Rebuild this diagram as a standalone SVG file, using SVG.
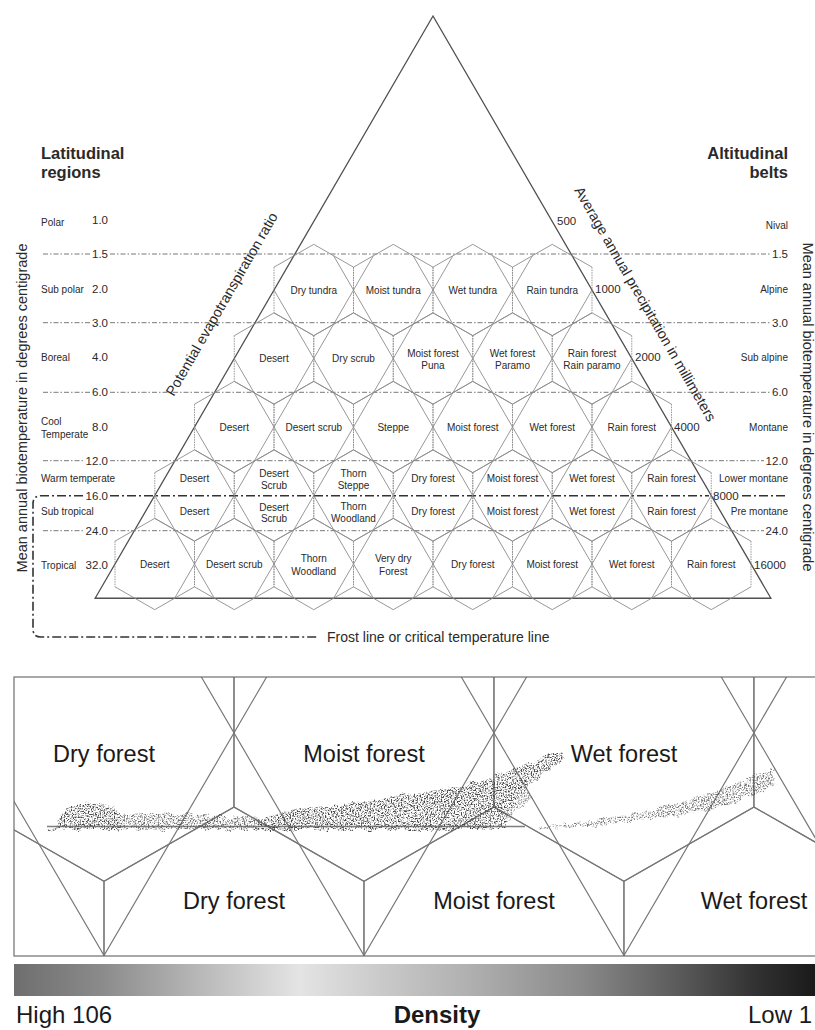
<svg xmlns="http://www.w3.org/2000/svg" xmlns:xlink="http://www.w3.org/1999/xlink" width="815" height="1030" viewBox="0 0 815 1030">
<style>
text{font-family:"Liberation Sans",Arial,sans-serif;fill:#2a2a2a}
.hl{font-size:10px;text-anchor:middle}
.lb{font-size:10px}
.rb{font-size:10px;text-anchor:end}
.num{font-size:11.5px;text-anchor:end}
.pn{font-size:11.5px}
.ttl{font-size:16.5px;font-weight:bold}
.ttr{font-size:16.5px;font-weight:bold;text-anchor:end}
.ax{font-size:14.5px;text-anchor:middle}
.ad{font-size:14.3px;text-anchor:middle}
.lat{fill:none;stroke:#8c8c8c;stroke-width:0.9}
.dd{fill:none;stroke:#6a6a6a;stroke-width:0.9;stroke-dasharray:5 2 1.5 2}
.fr{fill:none;stroke:#333;stroke-width:1.6;stroke-dasharray:9 3 2 3}
.tri{fill:none;stroke:#505050;stroke-width:1.3}
.pl{font-size:23.5px;text-anchor:middle;fill:#1a1a1a}
.bt{font-size:24px;fill:#1a1a1a}
</style>
<defs>
<path id="hxs" d="M-39.75,-22.83L0,-45.67L39.75,-22.83M-39.75,22.83L0,45.67L39.75,22.83"/>
<path id="hxv" d="M-39.75,-22.83V22.83M39.75,-22.83V22.83"/>
<path id="hxo" d="M0,-45.67L39.75,-22.83V22.83L0,45.67L-39.75,22.83V-22.83Z"/>
<g id="hx">
<use href="#hxs" fill="none" stroke="#8c8c8c" stroke-width="0.9"/>
<use href="#hxv" fill="none" stroke="#8c8c8c" stroke-width="0.9" stroke-dasharray="1.5 1"/>
</g>
<path id="latt" d="M174.63,598.25L472.75,84.5M254.13,598.25L512.5,153M333.63,598.25L552.25,221.5M413.13,598.25L592,290M492.63,598.25L631.75,358.5M572.13,598.25L671.5,427M651.63,598.25L711.25,495.5M691.38,598.25L393.25,84.5M611.88,598.25L353.5,153M532.38,598.25L313.75,221.5M452.88,598.25L274,290M373.38,598.25L234.25,358.5M293.88,598.25L194.5,427M214.38,598.25L154.75,495.5"/>
<clipPath id="hexclip">
<use href="#hxo" x="313.75" y="290"/><use href="#hxo" x="393.25" y="290"/><use href="#hxo" x="472.75" y="290"/><use href="#hxo" x="552.25" y="290"/>
<use href="#hxo" x="274" y="358.5"/><use href="#hxo" x="353.5" y="358.5"/><use href="#hxo" x="433" y="358.5"/><use href="#hxo" x="512.5" y="358.5"/><use href="#hxo" x="592" y="358.5"/>
<use href="#hxo" x="234.25" y="427"/><use href="#hxo" x="313.75" y="427"/><use href="#hxo" x="393.25" y="427"/><use href="#hxo" x="472.75" y="427"/><use href="#hxo" x="552.25" y="427"/><use href="#hxo" x="631.75" y="427"/>
<use href="#hxo" x="194.5" y="495.5"/><use href="#hxo" x="274" y="495.5"/><use href="#hxo" x="353.5" y="495.5"/><use href="#hxo" x="433" y="495.5"/><use href="#hxo" x="512.5" y="495.5"/><use href="#hxo" x="592" y="495.5"/><use href="#hxo" x="671.5" y="495.5"/>
<use href="#hxo" x="154.75" y="564"/><use href="#hxo" x="234.25" y="564"/><use href="#hxo" x="313.75" y="564"/><use href="#hxo" x="393.25" y="564"/><use href="#hxo" x="472.75" y="564"/><use href="#hxo" x="552.25" y="564"/><use href="#hxo" x="631.75" y="564"/><use href="#hxo" x="711.25" y="564"/>
</clipPath>
<clipPath id="pclip"><rect x="14" y="677" width="801" height="279"/></clipPath>
<linearGradient id="dens" x1="0" y1="0" x2="1" y2="0">
<stop offset="0" stop-color="#6e6e6e"/>
<stop offset="0.107" stop-color="#8a8a8a"/>
<stop offset="0.232" stop-color="#b8b8b8"/>
<stop offset="0.356" stop-color="#e4e4e4"/>
<stop offset="0.457" stop-color="#cacaca"/>
<stop offset="0.58" stop-color="#adadad"/>
<stop offset="0.707" stop-color="#8a8a8a"/>
<stop offset="0.831" stop-color="#5a5a5a"/>
<stop offset="0.93" stop-color="#303030"/>
<stop offset="1" stop-color="#1a1a1a"/>
</linearGradient>
<filter id="spk" x="-5%" y="-30%" width="110%" height="160%" color-interpolation-filters="sRGB">
<feTurbulence type="fractalNoise" baseFrequency="0.12" numOctaves="2" seed="9" result="d"/>
<feDisplacementMap in="SourceAlpha" in2="d" scale="9" xChannelSelector="R" yChannelSelector="G" result="da"/>
<feTurbulence type="fractalNoise" baseFrequency="0.7" numOctaves="2" seed="4" result="t"/>
<feColorMatrix in="t" type="matrix" values="0 0 0 0 0.27 0 0 0 0 0.27 0 0 0 0 0.27 4 0 0 0 -1.8" result="s"/>
<feComposite in="s" in2="da" operator="in"/>
</filter>
<g id="cloud">
<path d="M58,829C58,815 66,805 82,804C97,803 110,807 120,811L120,830Z"/>
<path d="M46,828L60,825C90,812 150,812 200,815C230,816 262,818 300,821L300,830L46,830Z" fill-opacity="0.8"/>
<path d="M250,830C256,819 275,812 300,809C350,803 420,795 470,783C500,775 530,762 560,751L564,760C540,772 522,790 508,815L505,830Z"/>
<path d="M455,830C478,815 500,800 525,788L532,798C515,812 505,822 500,830Z" fill-opacity="0.6"/>
<path d="M538,827C600,822 650,810 690,800C720,792 750,778 772,768L776,785C745,800 710,812 676,816C620,823 580,828 540,829Z" fill-opacity="0.75"/>
</g>
</defs>

<!-- connectors: lattice lines, triangle, temperature lines -->
<g id="connectors">
<g clip-path="url(#hexclip)"><use href="#latt" class="lat"/></g>
<path class="tri" d="M433,16L95.13,598.25L770.88,598.25Z"/>
<path class="dd" d="M43,254H90M110,254H770M43,322.7H90M110,322.7H770M43,392.3H90M110,392.3H770M43,460.7H83M110,460.7H764M43,530.7H83M110,530.7H764"/>
<path class="fr" d="M110,495.7H709M742,495.7H788"/>
<path class="fr" d="M83,495.7H41Q33,495.7 33,504V629Q33,637 41,637H318"/>
</g>

<!-- hexagon life zones -->
<g id="z-dry-tundra"><use href="#hx" x="313.75" y="290"/><text class="hl" x="313.75" y="293.5">Dry tundra</text></g>
<g id="z-moist-tundra"><use href="#hx" x="393.25" y="290"/><text class="hl" x="393.25" y="293.5">Moist tundra</text></g>
<g id="z-wet-tundra"><use href="#hx" x="472.75" y="290"/><text class="hl" x="472.75" y="293.5">Wet tundra</text></g>
<g id="z-rain-tundra"><use href="#hx" x="552.25" y="290"/><text class="hl" x="552.25" y="293.5">Rain tundra</text></g>

<g id="z-boreal-desert"><use href="#hx" x="274" y="358.5"/><text class="hl" x="274" y="362">Desert</text></g>
<g id="z-dry-scrub"><use href="#hx" x="353.5" y="358.5"/><text class="hl" x="353.5" y="362">Dry scrub</text></g>
<g id="z-boreal-moist"><use href="#hx" x="433" y="358.5"/><text class="hl" x="433" y="356.5">Moist forest</text><text class="hl" x="433" y="368.5">Puna</text></g>
<g id="z-boreal-wet"><use href="#hx" x="512.5" y="358.5"/><text class="hl" x="512.5" y="356.5">Wet forest</text><text class="hl" x="512.5" y="368.5">Paramo</text></g>
<g id="z-boreal-rain"><use href="#hx" x="592" y="358.5"/><text class="hl" x="592" y="356.5">Rain forest</text><text class="hl" x="592" y="368.5">Rain paramo</text></g>

<g id="z-cool-desert"><use href="#hx" x="234.25" y="427"/><text class="hl" x="234.25" y="430.5">Desert</text></g>
<g id="z-cool-desert-scrub"><use href="#hx" x="313.75" y="427"/><text class="hl" x="313.75" y="430.5">Desert scrub</text></g>
<g id="z-steppe"><use href="#hx" x="393.25" y="427"/><text class="hl" x="393.25" y="430.5">Steppe</text></g>
<g id="z-cool-moist"><use href="#hx" x="472.75" y="427"/><text class="hl" x="472.75" y="430.5">Moist forest</text></g>
<g id="z-cool-wet"><use href="#hx" x="552.25" y="427"/><text class="hl" x="552.25" y="430.5">Wet forest</text></g>
<g id="z-cool-rain"><use href="#hx" x="631.75" y="427"/><text class="hl" x="631.75" y="430.5">Rain forest</text></g>

<g id="z-warm-desert"><use href="#hx" x="194.5" y="495.5"/><text class="hl" x="194.5" y="481.5">Desert</text><text class="hl" x="194.5" y="514.5">Desert</text></g>
<g id="z-warm-desert-scrub"><use href="#hx" x="274" y="495.5"/><text class="hl" x="274" y="476.5">Desert</text><text class="hl" x="274" y="488.5">Scrub</text><text class="hl" x="274" y="510.5">Desert</text><text class="hl" x="274" y="521.5">Scrub</text></g>
<g id="z-thorn"><use href="#hx" x="353.5" y="495.5"/><text class="hl" x="353.5" y="476.5">Thorn</text><text class="hl" x="353.5" y="488.5">Steppe</text><text class="hl" x="353.5" y="509.5">Thorn</text><text class="hl" x="353.5" y="521.5">Woodland</text></g>
<g id="z-warm-dry"><use href="#hx" x="433" y="495.5"/><text class="hl" x="433" y="481.5">Dry forest</text><text class="hl" x="433" y="514.5">Dry forest</text></g>
<g id="z-warm-moist"><use href="#hx" x="512.5" y="495.5"/><text class="hl" x="512.5" y="481.5">Moist forest</text><text class="hl" x="512.5" y="514.5">Moist forest</text></g>
<g id="z-warm-wet"><use href="#hx" x="592" y="495.5"/><text class="hl" x="592" y="481.5">Wet forest</text><text class="hl" x="592" y="514.5">Wet forest</text></g>
<g id="z-warm-rain"><use href="#hx" x="671.5" y="495.5"/><text class="hl" x="671.5" y="481.5">Rain forest</text><text class="hl" x="671.5" y="514.5">Rain forest</text></g>

<g id="z-trop-desert"><use href="#hx" x="154.75" y="564"/><text class="hl" x="154.75" y="567.5">Desert</text></g>
<g id="z-trop-desert-scrub"><use href="#hx" x="234.25" y="564"/><text class="hl" x="234.25" y="567.5">Desert scrub</text></g>
<g id="z-trop-thorn"><use href="#hx" x="313.75" y="564"/><text class="hl" x="313.75" y="561.5">Thorn</text><text class="hl" x="313.75" y="574.5">Woodland</text></g>
<g id="z-very-dry"><use href="#hx" x="393.25" y="564"/><text class="hl" x="393.25" y="561.5">Very dry</text><text class="hl" x="393.25" y="574.5">Forest</text></g>
<g id="z-trop-dry"><use href="#hx" x="472.75" y="564"/><text class="hl" x="472.75" y="567.5">Dry forest</text></g>
<g id="z-trop-moist"><use href="#hx" x="552.25" y="564"/><text class="hl" x="552.25" y="567.5">Moist forest</text></g>
<g id="z-trop-wet"><use href="#hx" x="631.75" y="564"/><text class="hl" x="631.75" y="567.5">Wet forest</text></g>
<g id="z-trop-rain"><use href="#hx" x="711.25" y="564"/><text class="hl" x="711.25" y="567.5">Rain forest</text></g>

<!-- left scale -->
<g id="left-scale">
<text class="ttl" x="41" y="159">Latitudinal</text>
<text class="ttl" x="41" y="177.5">regions</text>
<text class="lb" x="41" y="226">Polar</text>
<text class="lb" x="41" y="292.6">Sub polar</text>
<text class="lb" x="41" y="360.6">Boreal</text>
<text class="lb" x="41" y="424.6">Cool</text>
<text class="lb" x="41" y="437.6">Temperate</text>
<text class="lb" x="41" y="481.6">Warm temperate</text>
<text class="lb" x="41" y="514.6">Sub tropical</text>
<text class="lb" x="41" y="568.6">Tropical</text>
<text class="num" x="108" y="224">1.0</text>
<text class="num" x="108" y="258">1.5</text>
<text class="num" x="108" y="293">2.0</text>
<text class="num" x="108" y="326.8">3.0</text>
<text class="num" x="108" y="361">4.0</text>
<text class="num" x="108" y="396.4">6.0</text>
<text class="num" x="108" y="431">8.0</text>
<text class="num" x="108" y="464.8">12.0</text>
<text class="num" x="108" y="499.8">16.0</text>
<text class="num" x="108" y="534.8">24.0</text>
<text class="num" x="108" y="569">32.0</text>
<text class="ax" transform="translate(27,408) rotate(-90)">Mean annual biotemperature in degrees centigrade</text>
</g>

<!-- right scale -->
<g id="right-scale">
<text class="ttr" x="788" y="159">Altitudinal</text>
<text class="ttr" x="788" y="177.5">belts</text>
<text class="rb" x="788" y="228.5">Nival</text>
<text class="rb" x="788" y="292.6">Alpine</text>
<text class="rb" x="788" y="360.6">Sub alpine</text>
<text class="rb" x="788" y="430.6">Montane</text>
<text class="rb" x="788" y="481.6">Lower montane</text>
<text class="rb" x="788" y="514.6">Pre montane</text>
<text class="num" x="788" y="258">1.5</text>
<text class="num" x="788" y="326.8">3.0</text>
<text class="num" x="788" y="396.4">6.0</text>
<text class="num" x="788" y="464.8">12.0</text>
<text class="num" x="788" y="534.8">24.0</text>
<text class="ax" transform="translate(803,407) rotate(90)">Mean annual biotemperature in degrees centigrade</text>
</g>

<!-- precipitation and PET labels -->
<g id="precip-labels">
<text class="pn" x="557" y="225">500</text>
<text class="pn" x="595" y="293">1000</text>
<text class="pn" x="635" y="361">2000</text>
<text class="pn" x="674" y="431">4000</text>
<text class="pn" x="713" y="499.8">8000</text>
<text class="pn" x="754" y="569">16000</text>
<text class="ad" transform="translate(641,306.5) rotate(60)">Average annual precipitation in millimeters</text>
<text class="ad" transform="translate(226,306.5) rotate(-60)">Potential evapotranspiration ratio</text>
</g>

<g id="frost-label"><text x="327" y="641.5" style="font-size:14px">Frost line or critical temperature line</text></g>

<!-- magnified panel -->
<g id="panel">
<g clip-path="url(#pclip)">
<g transform="matrix(3.27 0 0 3.25 -1311.91 -877.5)" fill="none" stroke="#777" stroke-width="0.36">
<use href="#latt"/>
<use href="#hxo" x="433" y="495.5"/><use href="#hxo" x="512.5" y="495.5"/><use href="#hxo" x="592" y="495.5"/><use href="#hxo" x="671.5" y="495.5"/>
<use href="#hxo" x="393.25" y="564"/><use href="#hxo" x="472.75" y="564"/><use href="#hxo" x="552.25" y="564"/><use href="#hxo" x="631.75" y="564"/><use href="#hxo" x="711.25" y="564"/>
</g>
<g id="scatter">
<use href="#cloud" fill="#000" filter="url(#spk)"/>
</g>
<path d="M47,826.5H525" stroke="#555" stroke-width="1.5" opacity="0.75"/>
</g>
<rect x="14" y="677" width="810" height="279" fill="none" stroke="#6f6f6f" stroke-width="1.2"/>
<text class="pl" x="104" y="762">Dry forest</text>
<text class="pl" x="364" y="762">Moist forest</text>
<text class="pl" x="624" y="762">Wet forest</text>
<text class="pl" x="234" y="909">Dry forest</text>
<text class="pl" x="494" y="909">Moist forest</text>
<text class="pl" x="754" y="909">Wet forest</text>
</g>

<!-- density legend -->
<g id="legend">
<rect x="14" y="964" width="801" height="32" fill="url(#dens)"/>
<text class="bt" x="16" y="1023">High 106</text>
<text class="bt" x="437" y="1023" style="font-weight:bold;text-anchor:middle">Density</text>
<text class="bt" x="748" y="1023">Low 1</text>
</g>
</svg>
